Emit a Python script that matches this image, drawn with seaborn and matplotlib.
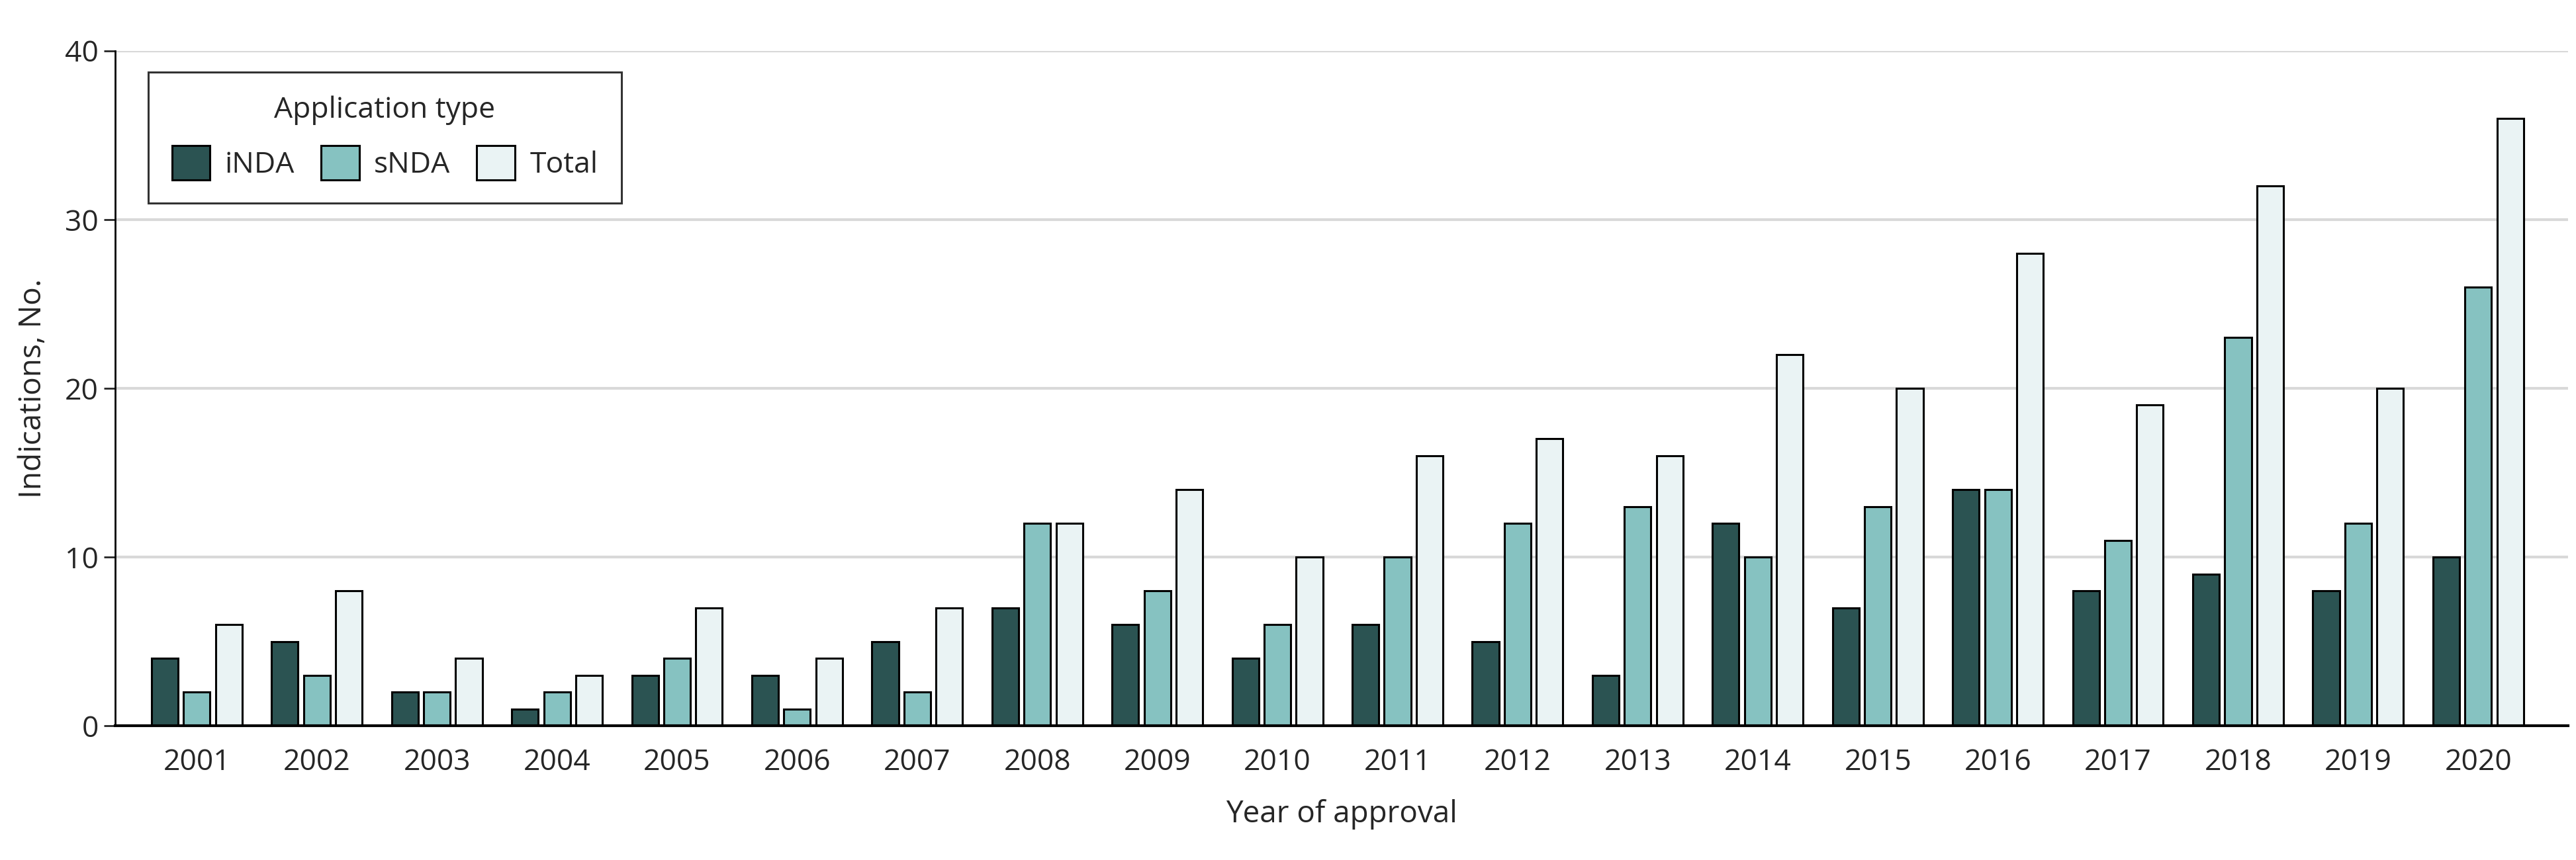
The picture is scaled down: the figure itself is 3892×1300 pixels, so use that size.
import pandas as pd
import matplotlib.pyplot as plt
import seaborn as sns

years = [str(y) for y in range(2001, 2021)]
inda = [4, 5, 2, 1, 3, 3, 5, 7, 6, 4, 6, 5, 3, 12, 7, 14, 8, 9, 8, 10]
snda = [2, 3, 2, 2, 4, 1, 2, 12, 8, 6, 10, 12, 13, 10, 13, 14, 11, 23, 12, 26]
total = [6, 8, 4, 3, 7, 4, 7, 12, 14, 10, 16, 17, 16, 22, 20, 28, 19, 32, 20, 36]

types = ["iNDA", "sNDA", "Total"]
colors = ["#2b5352", "#86c2c1", "#eaf3f4"]

df = pd.DataFrame({"year": years, "iNDA": inda, "sNDA": snda, "Total": total})
df = df.melt(id_vars="year", var_name="type", value_name="count")

sns.set_style("white")
plt.rcParams["font.family"] = ["Open Sans", "DejaVu Sans"]

fig, ax = plt.subplots(figsize=(38.92, 13), dpi=100)
fig.subplots_adjust(left=0.0447, right=0.997, top=0.941, bottom=0.156)

# horizontal gridlines behind the bars
ax.set_axisbelow(True)
ax.yaxis.grid(True, color="#d9d9d9", linewidth=3)

sns.barplot(data=df, x="year", y="count", hue="type", hue_order=types,
            palette=colors, saturation=1, width=0.8, gap=0.17,
            edgecolor="black", linewidth=2.2, ax=ax)

ax.set_ylim(0, 40)
ax.set_yticks([0, 10, 20, 30, 40])
ax.set_xlim(-0.68, 19.75)

for s in ["top", "right"]:
    ax.spines[s].set_visible(False)
ax.spines["left"].set_linewidth(2)
ax.spines["bottom"].set_linewidth(3)
ax.spines["left"].set_color("black")
ax.spines["bottom"].set_color("black")

ax.tick_params(axis="y", length=12, width=2, labelsize=32, pad=6, left=True)
ax.tick_params(axis="x", length=0, labelsize=32, pad=24)

ax.set_xlabel("Year of approval", fontsize=33, labelpad=24)
ax.set_ylabel("Indications, No.", fontsize=33, labelpad=18)

leg = ax.legend(title="Application type", ncol=3, loc="upper left",
                bbox_to_anchor=(0.0075, 0.99), fontsize=32, title_fontsize=32,
                frameon=True, fancybox=False, edgecolor="black",
                handlelength=1.3, handleheight=1.4, columnspacing=0.9,
                borderpad=0.8, labelspacing=0.7, handletextpad=0.5)
leg.get_frame().set_linewidth(2.2)

fig.savefig("out.png", dpi=100)
